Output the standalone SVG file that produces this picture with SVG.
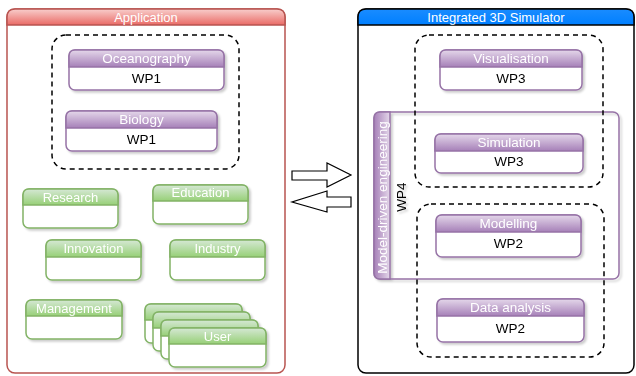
<svg xmlns="http://www.w3.org/2000/svg" width="636" height="376" viewBox="0 0 636 376">
<defs>
<linearGradient id="gP" x1="0" y1="0" x2="0" y2="1"><stop offset="0" stop-color="#e4d7ea"/><stop offset="1" stop-color="#a680b8"/></linearGradient>
<linearGradient id="gPh" x1="0" y1="0" x2="1" y2="0"><stop offset="0" stop-color="#a680b8"/><stop offset="1" stop-color="#e4d7ea"/></linearGradient>
<linearGradient id="gG" x1="0" y1="0" x2="0" y2="1"><stop offset="0" stop-color="#d5e8d4"/><stop offset="1" stop-color="#97d077"/></linearGradient>
<linearGradient id="gR" x1="0" y1="0" x2="0" y2="1"><stop offset="0" stop-color="#f8cecc"/><stop offset="1" stop-color="#ea6b66"/></linearGradient>
<linearGradient id="gB" x1="0" y1="0" x2="0" y2="1"><stop offset="0" stop-color="#1a8cff"/><stop offset="1" stop-color="#007fff"/></linearGradient>
<filter id="sh" x="-10%" y="-10%" width="130%" height="140%"><feDropShadow dx="2" dy="2" stdDeviation="1" flood-color="#000" flood-opacity="0.2"/></filter>
</defs>
<style>
text{font-family:"Liberation Sans",Arial,sans-serif;text-anchor:middle;dominant-baseline:central}
.ht{fill:#fff;font-size:13px}
.hp{fill:#fff;font-size:13.5px}
.bt{fill:#000;font-size:13.5px}
.pb{fill:#fff;stroke:#9673a6;stroke-width:1.5}
.ph{fill:url(#gP);stroke:#9673a6;stroke-width:1.5}
.gb{fill:#fff;stroke:#82b366;stroke-width:1.5}
.gh{fill:url(#gG);stroke:#82b366;stroke-width:1.5}
.dash{fill:none;stroke:#000;stroke-width:1.5;stroke-dasharray:5 4}
.arr{fill:#fff;stroke:#000;stroke-width:1.2}
</style>

<g id="application">
<rect x="7" y="9" width="278" height="364" rx="8" fill="#fff" stroke="#b85450" stroke-width="1.5"/>
<path d="M7,25 V17 Q7,9 15,9 H277 Q285,9 285,17 V25 Z" fill="url(#gR)" stroke="#b85450" stroke-width="1.5"/>
<text class="ht" x="146" y="17">Application</text>
</g>

<g id="simulator">
<rect x="358" y="9" width="276" height="364" rx="8" fill="#fff" stroke="#000" stroke-width="1.5"/>
<path d="M358,25 V17 Q358,9 366,9 H626 Q634,9 634,17 V25 Z" fill="url(#gB)" stroke="#000" stroke-width="1.5"/>
<text class="ht" x="496" y="17">Integrated 3D Simulator</text>
</g>

<g id="group-wp1"><rect class="dash" x="52" y="35" width="187" height="134" rx="14"/></g>

<g id="oceanography" filter="url(#sh)">
<rect class="pb" x="69" y="50" width="155" height="40" rx="6"/>
<path class="ph" d="M69,67 V56 Q69,50 75,50 H218 Q224,50 224,56 V67 Z"/>
<text class="hp" x="146.5" y="58.5">Oceanography</text>
<text class="bt" x="146.5" y="78.5">WP1</text>
</g>

<g id="biology" filter="url(#sh)">
<rect class="pb" x="66" y="111" width="151" height="40" rx="6"/>
<path class="ph" d="M66,128 V117 Q66,111 72,111 H211 Q217,111 217,117 V128 Z"/>
<text class="hp" x="141.5" y="119.5">Biology</text>
<text class="bt" x="141.5" y="139.5">WP1</text>
</g>

<g id="research" filter="url(#sh)">
<rect class="gb" x="23" y="189" width="95" height="39" rx="6"/>
<path class="gh" d="M23,205 V195 Q23,189 29,189 H112 Q118,189 118,195 V205 Z"/>
<text class="ht" x="70.5" y="197">Research</text>
</g>

<g id="education" filter="url(#sh)">
<rect class="gb" x="153" y="185" width="95" height="39" rx="6"/>
<path class="gh" d="M153,201 V191 Q153,185 159,185 H242 Q248,185 248,191 V201 Z"/>
<text class="ht" x="200.5" y="192">Education</text>
</g>

<g id="innovation" filter="url(#sh)">
<rect class="gb" x="46" y="240" width="95" height="40" rx="6"/>
<path class="gh" d="M46,257 V246 Q46,240 52,240 H135 Q141,240 141,246 V257 Z"/>
<text class="ht" x="93.5" y="248">Innovation</text>
</g>

<g id="industry" filter="url(#sh)">
<rect class="gb" x="170" y="240" width="95" height="40" rx="6"/>
<path class="gh" d="M170,257 V246 Q170,240 176,240 H259 Q265,240 265,246 V257 Z"/>
<text class="ht" x="217.5" y="248">Industry</text>
</g>

<g id="management" filter="url(#sh)">
<rect class="gb" x="26" y="300" width="96" height="39" rx="6"/>
<path class="gh" d="M26,316 V306 Q26,300 32,300 H116 Q122,300 122,306 V316 Z"/>
<text class="ht" x="74" y="308">Management</text>
</g>

<g id="user" filter="url(#sh)">
<rect class="gb" x="145" y="304" width="97" height="39" rx="6"/>
<path class="gh" d="M145,320 V310 Q145,304 151,304 H236 Q242,304 242,310 V320 Z"/>
<rect class="gb" x="153" y="312" width="97" height="39" rx="6"/>
<path class="gh" d="M153,328 V318 Q153,312 159,312 H244 Q250,312 250,318 V328 Z"/>
<rect class="gb" x="161" y="320" width="97" height="39" rx="6"/>
<path class="gh" d="M161,336 V326 Q161,320 167,320 H252 Q258,320 258,326 V336 Z"/>
<rect class="gb" x="169" y="328" width="97" height="39" rx="6"/>
<path class="gh" d="M169,344 V334 Q169,328 175,328 H260 Q266,328 266,334 V344 Z"/>
<text class="ht" x="217.5" y="336">User</text>
</g>

<g id="mde" filter="url(#sh)">
<rect x="374" y="112" width="245" height="167" rx="6" fill="none" stroke="#9673a6" stroke-width="1.5"/>
<path d="M390,112 H380 Q374,112 374,118 V273 Q374,279 380,279 H390 Z" fill="url(#gPh)" stroke="#9673a6" stroke-width="1.5"/>
<text class="hp" transform="translate(382.5,197.5) rotate(-90)">Model-driven engineering</text>
<text class="bt" transform="translate(401,197) rotate(-90)">WP4</text>
</g>

<g id="group-wp3"><rect class="dash" x="415" y="35" width="188" height="152" rx="14"/></g>
<g id="group-wp2"><rect class="dash" x="417" y="204" width="187" height="153" rx="14"/></g>

<g id="visualisation" filter="url(#sh)">
<rect class="pb" x="440" y="50" width="142" height="40" rx="6"/>
<path class="ph" d="M440,67 V56 Q440,50 446,50 H576 Q582,50 582,56 V67 Z"/>
<text class="hp" x="511" y="58.5">Visualisation</text>
<text class="bt" x="511" y="78.5">WP3</text>
</g>

<g id="simulation" filter="url(#sh)">
<rect class="pb" x="435" y="134" width="148" height="39" rx="6"/>
<path class="ph" d="M435,151 V140 Q435,134 441,134 H577 Q583,134 583,140 V151 Z"/>
<text class="hp" x="509" y="142.5">Simulation</text>
<text class="bt" x="509" y="161.5">WP3</text>
</g>

<g id="modelling" filter="url(#sh)">
<rect class="pb" x="436" y="215" width="145" height="42" rx="6"/>
<path class="ph" d="M436,232 V221 Q436,215 442,215 H575 Q581,215 581,221 V232 Z"/>
<text class="hp" x="508.5" y="223">Modelling</text>
<text class="bt" x="508.5" y="243.5">WP2</text>
</g>

<g id="data-analysis" filter="url(#sh)">
<rect class="pb" x="437" y="299" width="147" height="43" rx="6"/>
<path class="ph" d="M437,316 V305 Q437,299 443,299 H578 Q584,299 584,305 V316 Z"/>
<text class="hp" x="510.5" y="307">Data analysis</text>
<text class="bt" x="510.5" y="328">WP2</text>
</g>

<g id="connectors">
<path class="arr" d="M292,171 H327 V163 L351,175 L327,187 V180 H292 Z"/>
<path class="arr" d="M351,197 H327 V191 L292,202 L327,212 V207 H351 Z"/>
</g>
</svg>
